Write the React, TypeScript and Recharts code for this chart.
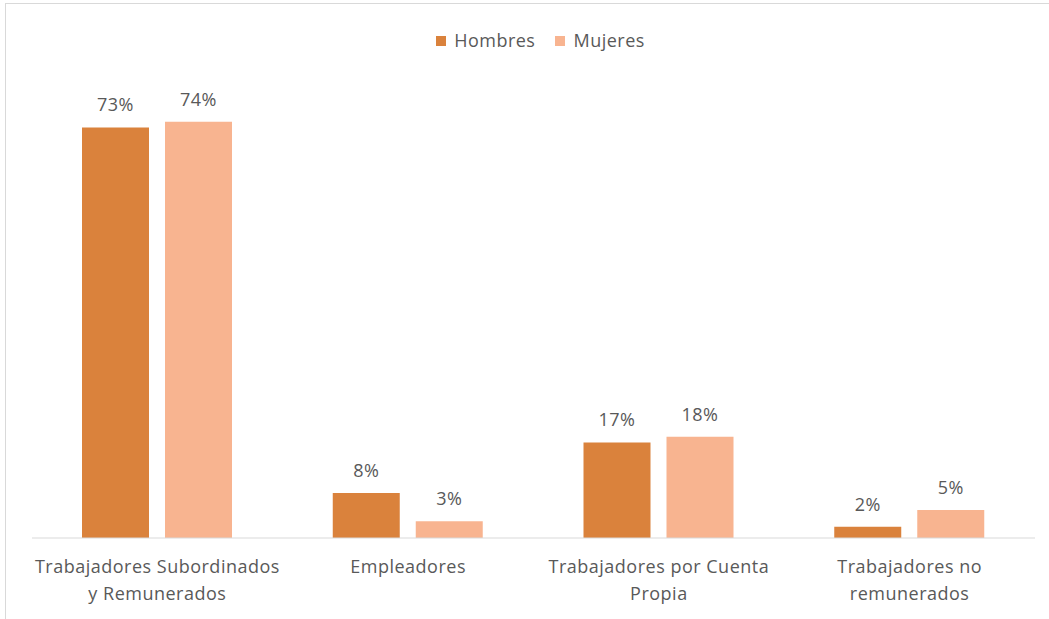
import React from 'react';
import { BarChart, Bar, XAxis, YAxis, Legend, LabelList } from 'recharts';

const categories = ['Trabajadores Subordinados y Remunerados', 'Empleadores', 'Trabajadores por Cuenta Propia', 'Trabajadores no remunerados'];
const tickLines = [
  ['Trabajadores Subordinados', 'y Remunerados'],
  ['Empleadores'],
  ['Trabajadores por Cuenta', 'Propia'],
  ['Trabajadores no', 'remunerados'],
];
const hombres = [73, 8, 17, 2];
const mujeres = [74, 3, 18, 5];

const data = categories.map((c, i) => ({ name: c, idx: i, Hombres: hombres[i], Mujeres: mujeres[i] }));

const FONT = '"Open Sans", sans-serif';
const TEXT = '#595959';
const FS = 18;
const LS = 0.5;

const Tick = (props: any) => {
  const { x, y, payload } = props;
  const lines = tickLines[payload.index] || [String(payload.value)];
  return (
    <g transform={`translate(${x},${y})`}>
      {lines.map((l, i) => (
        <text key={i} x={0} y={21 + i * 27} dy="0.35em" textAnchor="middle" fill={TEXT} fontSize={FS} fontFamily={FONT} letterSpacing={LS}>
          {l}
        </text>
      ))}
    </g>
  );
};

const LegendContent = (props: any) => {
  const { payload } = props;
  return (
    <div style={{ display: 'flex', justifyContent: 'center', gap: 20, paddingLeft: 32, fontFamily: FONT, fontSize: FS, letterSpacing: LS, color: TEXT, lineHeight: '23px' }}>
      {payload.map((p: any) => (
        <div key={p.value} style={{ display: 'flex', alignItems: 'center' }}>
          <span style={{ width: 10, height: 10, background: p.color, display: 'inline-block', marginRight: 8 }} />
          <span>{p.value}</span>
        </div>
      ))}
    </div>
  );
};

export default function App() {
  return (
    <div style={{ position: 'absolute', left: 0, top: 0, width: 1049, height: 619, overflow: 'hidden', background: '#fff' }}>
      <div style={{ position: 'absolute', left: 5, top: 3, width: 1100, height: 700, border: '1px solid #d9d9d9' }} />
      <div style={{ position: 'absolute', left: 0, top: 0 }}>
        <BarChart
          width={1049}
          height={619}
          data={data}
          margin={{ top: 65, right: 14, bottom: 0, left: 32 }}
          barGap={16}
          barSize={67}
        >
          <XAxis dataKey="name" axisLine={{ stroke: '#d9d9d9' }} tickLine={false} tick={<Tick />} interval={0} height={81} />
          <YAxis hide domain={[0, 80]} />
          <Legend
            verticalAlign="top"
            content={<LegendContent />}
            wrapperStyle={{ position: 'absolute', top: 29, left: 0, width: 1049 }}
          />
          <Bar dataKey="Hombres" fill="#DA823C" isAnimationActive={false}>
            <LabelList dataKey="Hombres" position="top" offset={16} formatter={(v: any) => `${v}%`} fill={TEXT} fontSize={FS} fontFamily={FONT} letterSpacing={LS} />
          </Bar>
          <Bar dataKey="Mujeres" fill="#F8B490" isAnimationActive={false}>
            <LabelList dataKey="Mujeres" position="top" offset={16} formatter={(v: any) => `${v}%`} fill={TEXT} fontSize={FS} fontFamily={FONT} letterSpacing={LS} />
          </Bar>
        </BarChart>
      </div>
    </div>
  );
}
